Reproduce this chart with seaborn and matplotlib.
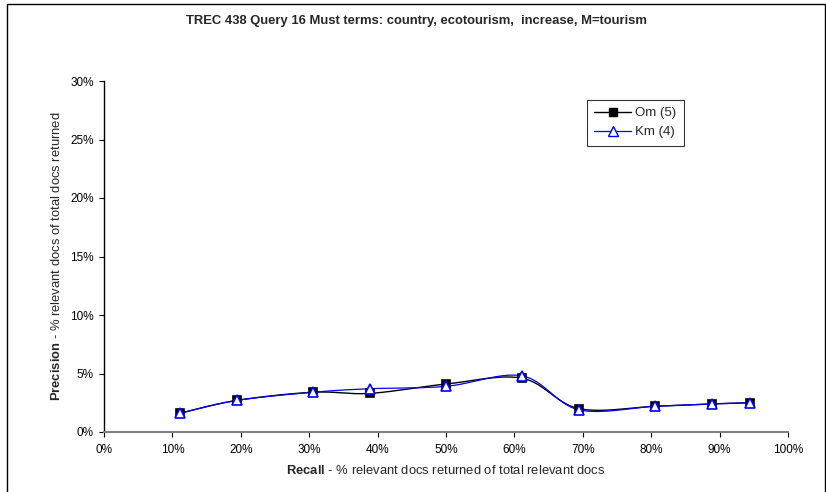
import numpy as np
import pandas as pd
import matplotlib
matplotlib.use("Agg")
import matplotlib.pyplot as plt
from matplotlib.patches import Rectangle
from matplotlib.ticker import FuncFormatter
import seaborn as sns

# Recall (%) at each cut-off and precision (%) for the two runs
recall = [11.1, 19.4, 30.6, 38.9, 50.0, 61.1, 69.4, 80.6, 88.9, 94.4]
om_precision = [1.6, 2.7, 3.4, 3.3, 4.1, 4.6, 2.0, 2.2, 2.4, 2.5]
km_precision = [1.6, 2.7, 3.4, 3.7, 3.9, 4.8, 1.9, 2.2, 2.4, 2.5]
series_names = ["Om (5)", "Km (4)"]
x_ticks = [0, 10, 20, 30, 40, 50, 60, 70, 80, 90, 100]
y_ticks = [0, 5, 10, 15, 20, 25, 30]

title = "TREC 438 Query 16 Must terms: country, ecotourism,  increase, M=tourism"

sns.set_style("white")
plt.rcParams["font.family"] = ["Liberation Sans", "DejaVu Sans"]
plt.rcParams["mathtext.fontset"] = "custom"
plt.rcParams["mathtext.rm"] = "Liberation Sans"
plt.rcParams["mathtext.bf"] = "Liberation Sans:bold"


def smooth(xs, ys, steps=24):
    """Catmull-Rom style curve through the points (Excel 'smoothed line')."""
    xs = np.asarray(xs, float)
    ys = np.asarray(ys, float)
    px = np.concatenate([[xs[0]], xs, [xs[-1]]])
    py = np.concatenate([[ys[0]], ys, [ys[-1]]])
    out_x, out_y = [], []
    for i in range(1, len(px) - 2):
        p0 = np.array([px[i], py[i]])
        p3 = np.array([px[i + 1], py[i + 1]])
        c1 = p0 + (np.array([px[i + 1], py[i + 1]]) - np.array([px[i - 1], py[i - 1]])) / 6
        c2 = p3 - (np.array([px[i + 2], py[i + 2]]) - np.array([px[i], py[i]])) / 6
        t = np.linspace(0, 1, steps, endpoint=(i == len(px) - 3))
        b = ((1 - t) ** 3)[:, None] * p0 + (3 * (1 - t) ** 2 * t)[:, None] * c1 \
            + (3 * (1 - t) * t ** 2)[:, None] * c2 + (t ** 3)[:, None] * p3
        out_x.extend(b[:, 0])
        out_y.extend(b[:, 1])
    return np.array(out_x), np.array(out_y)


fig = plt.figure(figsize=(8.26, 4.92), dpi=100)
ax = fig.add_axes([104 / 826, 1 - 432 / 492, 684 / 826, 351 / 492])

styles = [
    dict(color="black", marker="s", mfc="black", mec="black", ms=6.0, lw=1.0),
    dict(color="#0000ff", marker="^", mfc="white", mec="#0000ff", ms=7.0, lw=0.9),
]

for name, vals, st in zip(series_names, [om_precision, km_precision], styles):
    sx, sy = smooth(recall, vals)
    curve = pd.DataFrame({"Recall": sx, "Precision": sy})
    sns.lineplot(data=curve, x="Recall", y="Precision", ax=ax, color=st["color"],
                 lw=st["lw"], sort=False, estimator=None, zorder=2)
    pts = pd.DataFrame({"Recall": recall, "Precision": vals})
    ax.plot(pts["Recall"], pts["Precision"], ls="none", marker=st["marker"],
            mfc=st["mfc"], mec=st["mec"], ms=st["ms"], mew=1.2, zorder=3)

# legend handles combining line and marker
handles = [plt.Line2D([], [], color=st["color"], lw=st["lw"], marker=st["marker"],
                      mfc=st["mfc"], mec=st["mec"], ms=st["ms"] - 0.5, mew=1.0)
           for st in styles]
leg = ax.legend(handles, series_names, loc="upper left",
                bbox_to_anchor=((587 - 104) / 684, (432 - 100) / 351),
                frameon=True, fancybox=False, edgecolor="black", fontsize=9.5,
                handlelength=2.8, handletextpad=0.3, borderpad=0.55,
                labelspacing=0.5, borderaxespad=0)
leg.get_frame().set_linewidth(0.8)

ax.set_xlim(0, 100)
ax.set_ylim(0, 30)
ax.set_xticks(x_ticks)
ax.set_yticks(y_ticks)
pct = FuncFormatter(lambda v, _: f"{v:.0f}%")
ax.xaxis.set_major_formatter(pct)
ax.yaxis.set_major_formatter(pct)
ax.tick_params(axis="both", labelsize=8.5, direction="out", length=3.5, width=0.8,
               colors="black", bottom=True, left=True)
ax.tick_params(axis="x", pad=5)
ax.tick_params(axis="y", pad=4)

for side in ["top", "right"]:
    ax.spines[side].set_visible(False)
ax.spines["left"].set_color("black")
ax.spines["left"].set_linewidth(1.0)
ax.spines["bottom"].set_color("#808080")
ax.spines["bottom"].set_linewidth(1.5)

ax.set_xlabel(r"$\bf{Recall}$ - % relevant docs returned of total relevant docs",
              fontsize=9.4, labelpad=6)
ax.set_ylabel(r"$\bf{Precision}$ - % relevant docs of total docs returned",
              fontsize=9.4, labelpad=5)

fig.text(416 / 826, 1 - 21 / 492, title, ha="center", va="center",
         fontsize=9.4, fontweight="bold")

# chart area frame
fig.patches.append(Rectangle((7 / 826, -0.2), 1 - 7 / 826 - 1.5 / 826, 1.2 - 4 / 492,
                             transform=fig.transFigure, fill=False,
                             edgecolor="black", lw=1.0))

fig.savefig("out.png", dpi=100)
